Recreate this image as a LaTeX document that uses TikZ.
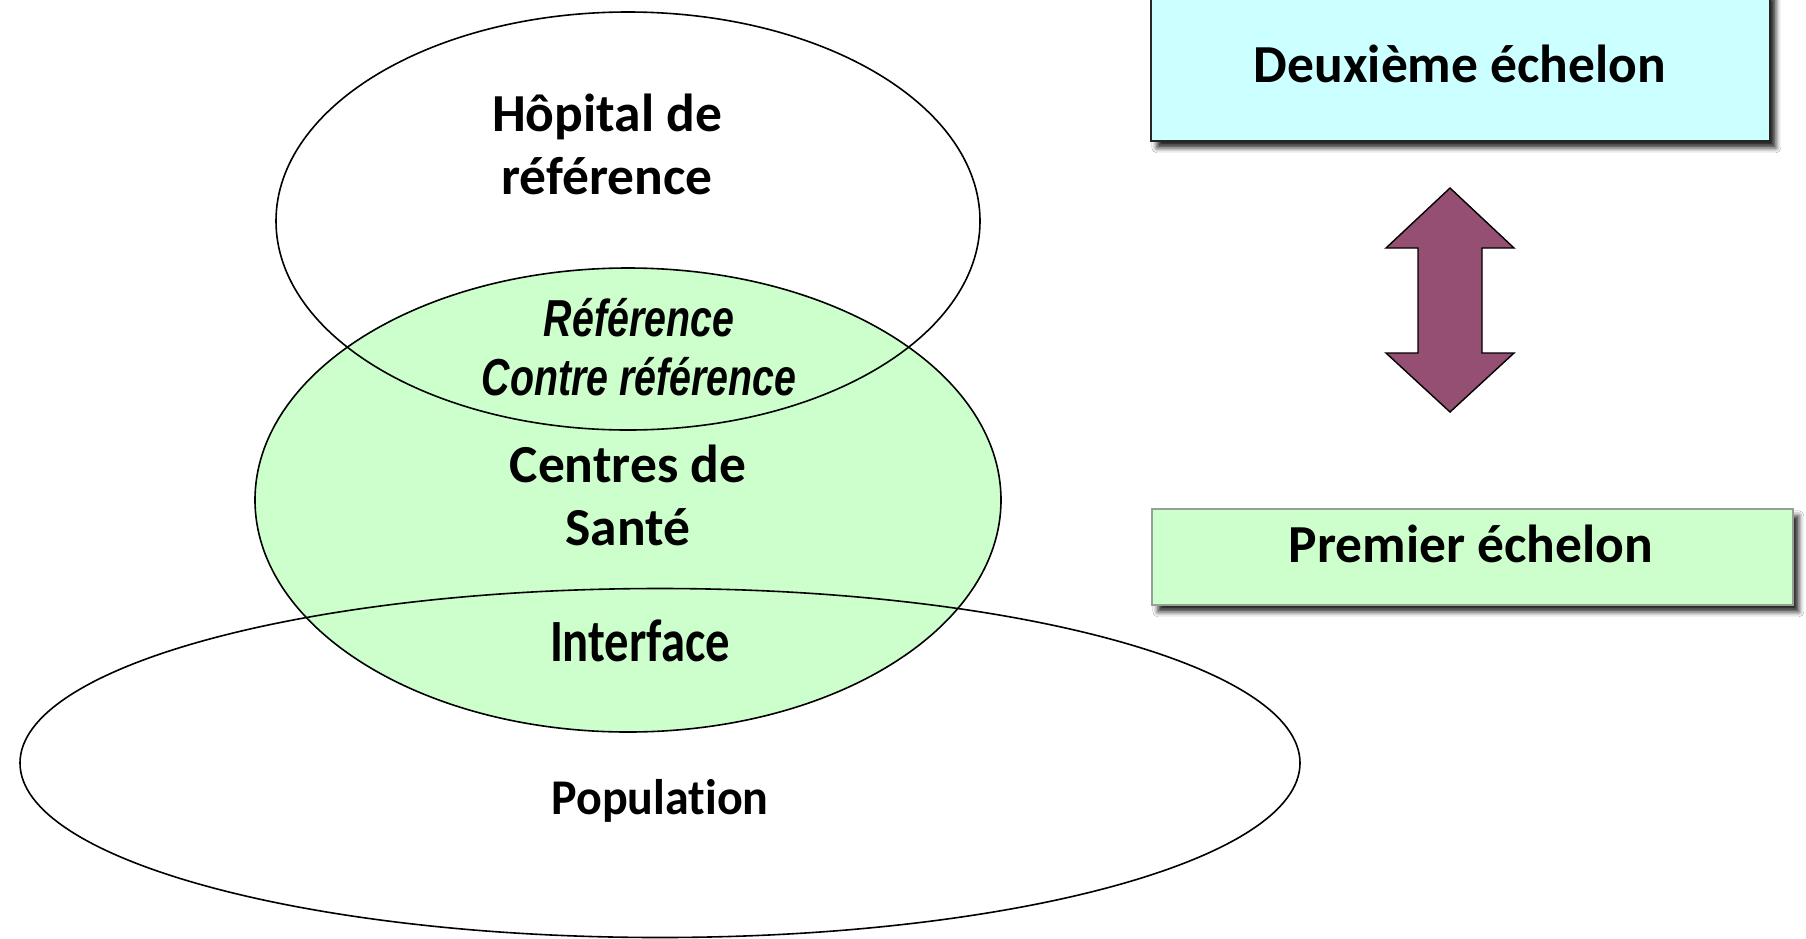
\documentclass[tikz,border=0pt]{standalone}
\usepackage{fontspec}
\setmainfont{Carlito}[Ligatures=NoCommon]
\newfontfamily\labelfont{Carlito}[Ligatures=NoCommon]
\newfontfamily\narrowlabel{Carlito}[FakeStretch=0.81,Ligatures=NoCommon]
\newfontfamily\slimlabel{Carlito}[FakeStretch=0.96,Ligatures=NoCommon]
\newfontfamily\flowfont{Liberation Sans}[FakeStretch=0.756]
\usetikzlibrary{shapes.geometric,shadows.blur}
\definecolor{healthgreen}{RGB}{204,255,204}
\definecolor{levelcyan}{RGB}{204,255,255}
\definecolor{arrowplum}{RGB}{149,79,114}
\definecolor{greyedge}{RGB}{150,160,150}
\tikzset{
  ring/.style={ellipse, draw=black, line width=1.6pt, inner sep=0pt},
  levelbox/.style={draw, line width=1.6pt, minimum height=#1, inner sep=0pt,
    blur shadow={shadow xshift=6pt, shadow yshift=-7pt, shadow blur radius=5pt, shadow opacity=85}},
  bigtext/.style={font=\labelfont\bfseries\fontsize{53.5}{63}\selectfont, align=center, inner sep=0pt},
}
\begin{document}
\begin{tikzpicture}[x=1pt,y=-1pt]
\useasboundingbox (0,0) rectangle (1806,938);
\fill[white] (0,0) rectangle (1806,938);

% health centre ring, filled first so that the other outlines stay visible
\node[ring, fill=healthgreen, minimum width=746pt, minimum height=464pt] (sante) at (628,500) {};
% referral hospital ring
\node[ring, minimum width=704pt, minimum height=418pt] (hopital) at (628,221) {};
% population ring
\node[ring, minimum width=1280pt, minimum height=349pt] (pop) at (660,763) {};

% ring labels
\node[bigtext] (thopital) at (607,144) {Hôpital de\\référence};
\node[font=\flowfont\bfseries\itshape\fontsize{52}{59}\selectfont, align=center, inner sep=0pt] (tref) at (639,347) {Référence\\Contre référence};
\node[bigtext] (tsante) at (628,495) {Centres de\\Santé};
\node[font=\narrowlabel\bfseries\fontsize{60}{60}\selectfont, inner sep=0pt] (tinter) at (640,641) {Interface};
\node[font=\slimlabel\bfseries\fontsize{50}{50}\selectfont, inner sep=0pt] (tpop) at (660,801) {Population};

% level boxes
\path (1150,-10) coordinate (b2nw);
\node[levelbox=150pt, fill=levelcyan, draw=black!85, minimum width=619pt, anchor=north west] (deux) at (b2nw) {};
\node[bigtext] (tdeux) at (1460,64) {Deuxième échelon};
\node[levelbox=96pt, fill=healthgreen, draw=greyedge, minimum width=641pt, anchor=north west] (prem) at (1151,508) {};
\node[bigtext] (tprem) at (1471,544) {Premier échelon};

% two-way arrow between the levels
\coordinate (atop) at (1450,188);
\coordinate (abot) at (1450,412);
\filldraw[fill=arrowplum, draw=black, line width=1.4pt, line join=miter]
  (atop) -- (1514,248) -- (1482,248) -- (1482,353) -- (1514,353) -- (abot)
  -- (1386,353) -- (1418,353) -- (1418,248) -- (1386,248) -- cycle;
\end{tikzpicture}
\end{document}
